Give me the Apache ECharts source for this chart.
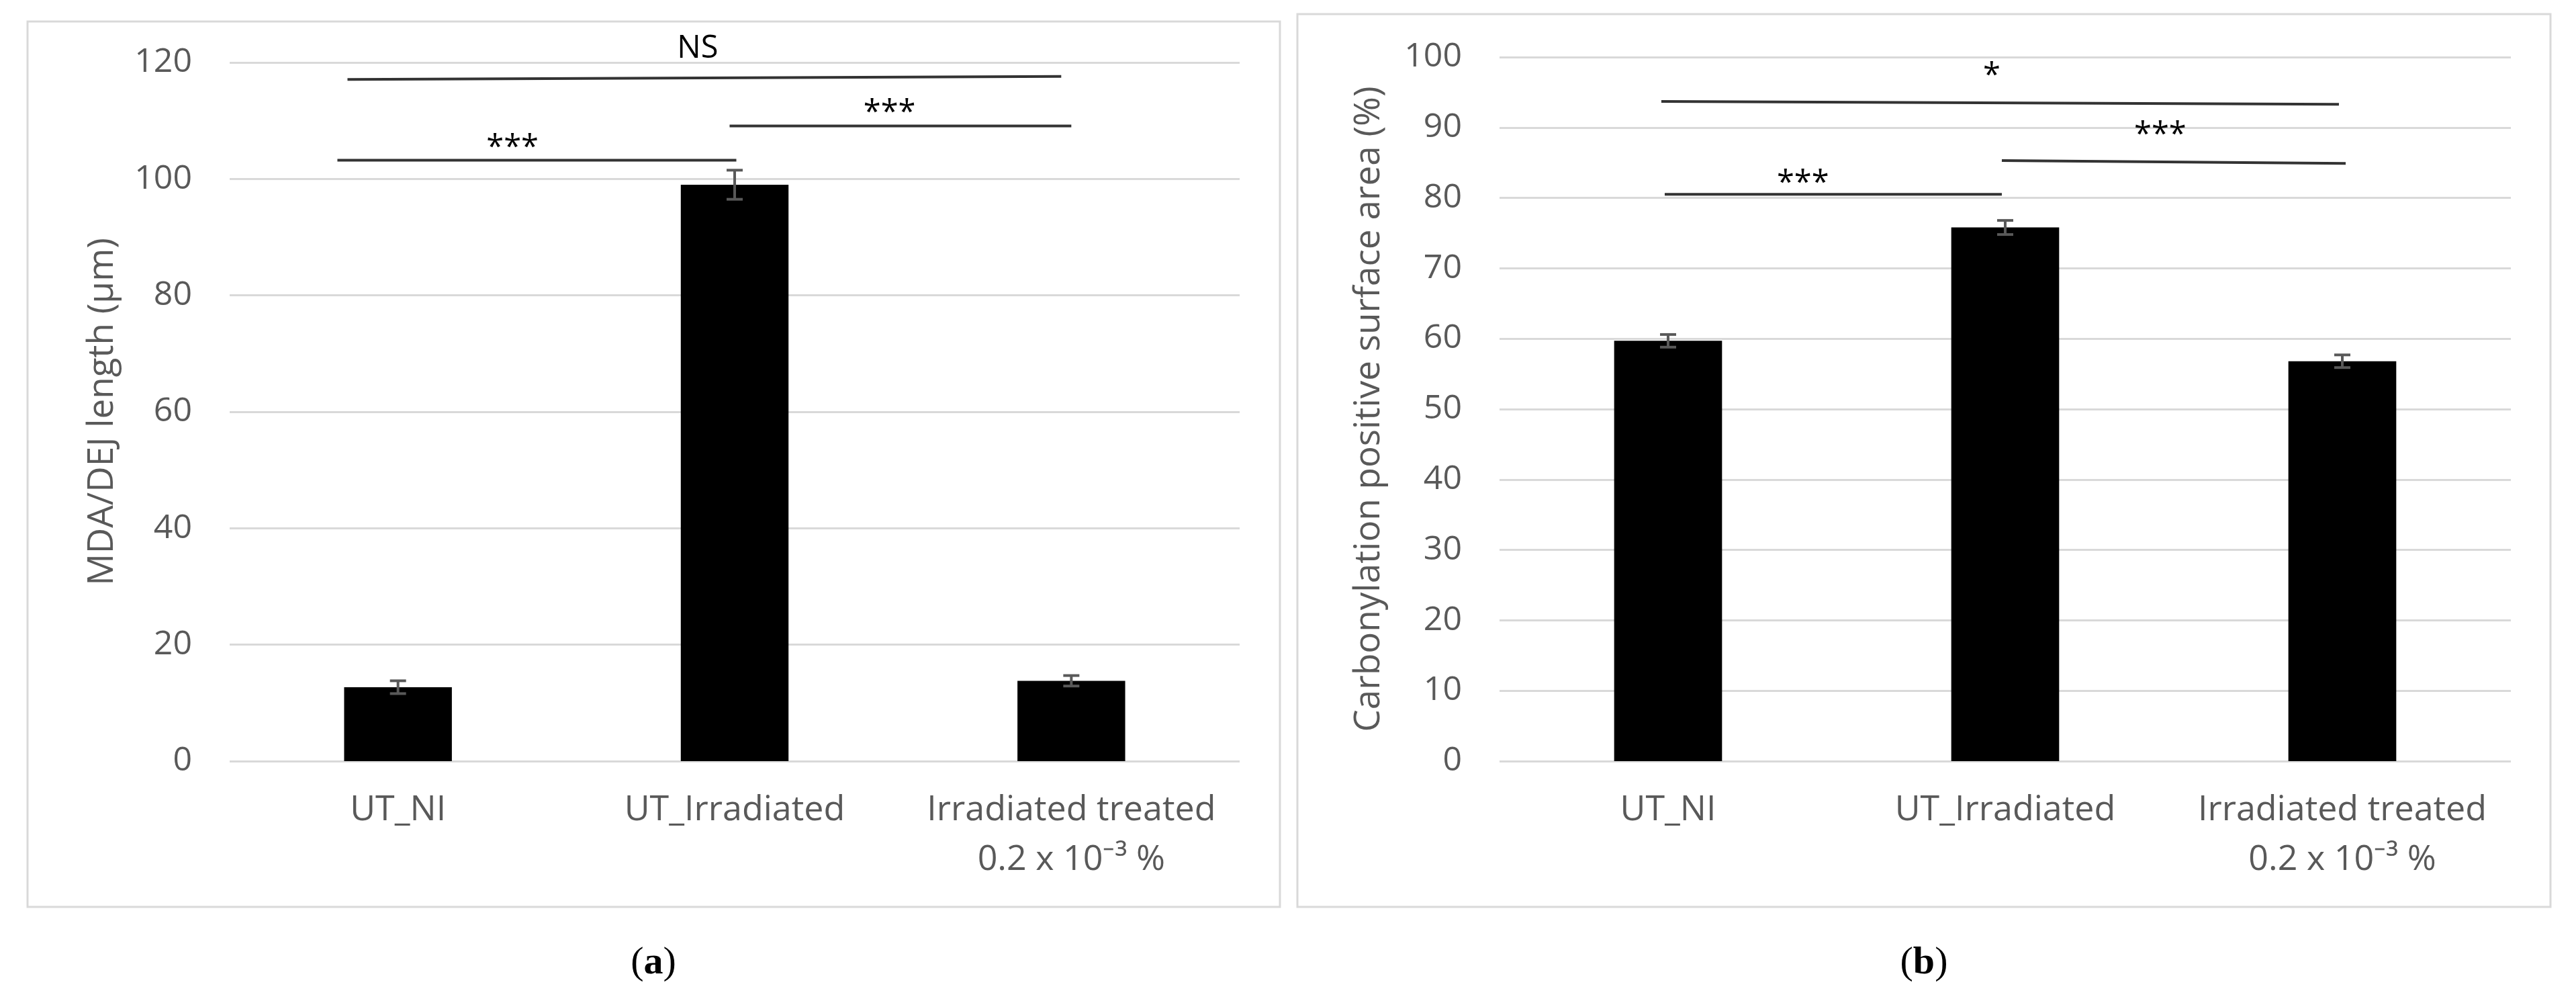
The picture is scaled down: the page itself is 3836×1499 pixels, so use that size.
<!DOCTYPE html>
<html>
<head>
<meta charset="utf-8">
<script src="https://cdn.jsdelivr.net/npm/echarts@6/dist/echarts.min.js"></script>
<style>
html,body{margin:0;padding:0;background:#fff;}
#c{width:3836px;height:1499px;}
</style>
</head>
<body>
<div id="c"></div>
<script>
// ---- data ----
var categories = ['UT_NI', 'UT_Irradiated', 'Irradiated treated\n0.2 x 10\u207B\u00B3 %'];

var mdaValues = [12.7, 99.0, 13.8];
var mdaErrors = [1.1, 2.5, 0.9];

var carbValues = [59.7, 75.8, 56.8];
var carbErrors = [0.9, 1.0, 0.9];

var mdaTicks = [0, 20, 40, 60, 80, 100, 120];
var carbTicks = [0, 10, 20, 30, 40, 50, 60, 70, 80, 90, 100];

// significance brackets: [xStart, yStart, xEnd, yEnd] in category units / value units
var mdaBrackets = [[-0.15, 117.1, 1.97, 117.6], [-0.18, 103.2, 1.005, 103.2], [0.985, 109.1, 2.0, 109.1]];
var mdaSigLabels = ['NS', '***', '***'];
var mdaSigPos = [[0.89, 122.3], [0.34, 105.3], [1.46, 111.3]];

var carbBrackets = [[-0.02, 93.7, 1.99, 93.3], [-0.01, 80.5, 0.99, 80.5], [0.99, 85.3, 2.01, 84.9]];
var carbSigLabels = ['*', '***', '***'];
var carbSigPos = [[0.96, 97.3], [0.40, 82.0], [1.46, 88.9]];

var FONT = 'Open Sans';
var GREY = '#595959';

function errData(vals, errs) {
  return vals.map(function (v, i) { return [i, v - errs[i], v + errs[i]]; });
}

function errorSeries(idx, vals, errs) {
  return {
    type: 'custom', xAxisIndex: idx * 2, yAxisIndex: idx, z: 5,
    data: errData(vals, errs),
    encode: { x: 0, y: [1, 2] },
    renderItem: function (params, api) {
      var x = api.value(0);
      var lo = api.coord([x, api.value(1)]);
      var hi = api.coord([x, api.value(2)]);
      var hw = 12;
      var st = { stroke: GREY, lineWidth: 4 };
      return { type: 'group', children: [
        { type: 'line', shape: { x1: lo[0], y1: lo[1], x2: hi[0], y2: hi[1] }, style: st },
        { type: 'line', shape: { x1: lo[0] - hw, y1: lo[1], x2: lo[0] + hw, y2: lo[1] }, style: st },
        { type: 'line', shape: { x1: hi[0] - hw, y1: hi[1], x2: hi[0] + hw, y2: hi[1] }, style: st }
      ]};
    }
  };
}

function bracketSeries(idx, brackets) {
  return {
    type: 'custom', xAxisIndex: idx * 2 + 1, yAxisIndex: idx, z: 6,
    data: brackets,
    encode: { x: [0, 2], y: [1, 3] },
    renderItem: function (params, api) {
      var a = api.coord([api.value(0), api.value(1)]);
      var b = api.coord([api.value(2), api.value(3)]);
      return { type: 'line', shape: { x1: a[0], y1: a[1], x2: b[0], y2: b[1] },
        style: { stroke: '#333333', lineWidth: 4 } };
    }
  };
}

function sigTextSeries(idx, pos, labels) {
  return {
    type: 'custom', xAxisIndex: idx * 2 + 1, yAxisIndex: idx, z: 7,
    data: pos,
    encode: { x: 0, y: 1 },
    renderItem: function (params, api) {
      var p = api.coord([api.value(0), api.value(1)]);
      return { type: 'text', x: p[0], y: p[1],
        style: { text: labels[params.dataIndex], fill: '#000', font: '47px "' + FONT + '"',
          align: 'center', verticalAlign: 'middle' } };
    }
  };
}

function catAxis(gi) {
  return {
    type: 'category', gridIndex: gi, data: categories,
    axisLine: { show: false }, axisTick: { show: false },
    axisLabel: { color: GREY, fontFamily: FONT, fontSize: 52, margin: 36, lineHeight: 74, interval: 0 }
  };
}
function hiddenX(gi) {
  return { type: 'value', gridIndex: gi, min: -0.5, max: 2.5, show: false };
}
function valAxis(gi, max, interval, name, gap) {
  return {
    type: 'value', gridIndex: gi, min: 0, max: max, interval: interval,
    name: name, nameLocation: 'middle', nameGap: gap,
    nameTextStyle: { color: GREY, fontFamily: FONT, fontSize: 53 },
    axisLine: { show: false }, axisTick: { show: false },
    axisLabel: { color: GREY, fontFamily: FONT, fontSize: 50, margin: 56 },
    splitLine: { lineStyle: { color: '#d9d9d9', width: 3 } }
  };
}

var chart = echarts.init(document.getElementById('c'), null, { renderer: 'canvas' });
chart.setOption({
  backgroundColor: '#fff',
  animation: false,
  grid: [
    { left: 342, top: 93, width: 1504, height: 1040 },
    { left: 2233, top: 85, width: 1506, height: 1048 }
  ],
  xAxis: [catAxis(0), hiddenX(0), catAxis(1), hiddenX(1)],
  yAxis: [
    valAxis(0, 120, 20, 'MDA/DEJ length (\u00B5m)', 163),
    valAxis(1, 100, 10, 'Carbonylation positive surface area (%)', 168)
  ],
  graphic: [
    { type: 'rect', shape: { x: 41, y: 32, width: 1865, height: 1318 }, style: { fill: 'none', stroke: '#d9d9d9', lineWidth: 3 }, z: -1 },
    { type: 'rect', shape: { x: 1932, y: 21, width: 1866, height: 1329 }, style: { fill: 'none', stroke: '#d9d9d9', lineWidth: 3 }, z: -1 },
    { type: 'text', x: 973, y: 1434, style: { text: '({b|a})', rich: { b: { font: 'bold 58px "Liberation Serif"', fill: '#000' } }, font: '58px "Liberation Serif"', fill: '#000', align: 'center', verticalAlign: 'middle' } },
    { type: 'text', x: 2865, y: 1434, style: { text: '({b|b})', rich: { b: { font: 'bold 58px "Liberation Serif"', fill: '#000' } }, font: '58px "Liberation Serif"', fill: '#000', align: 'center', verticalAlign: 'middle' } }
  ],
  series: [
    { type: 'bar', xAxisIndex: 0, yAxisIndex: 0, data: mdaValues, barWidth: '32%', itemStyle: { color: '#000' } },
    errorSeries(0, mdaValues, mdaErrors),
    bracketSeries(0, mdaBrackets),
    sigTextSeries(0, mdaSigPos, mdaSigLabels),
    { type: 'bar', xAxisIndex: 2, yAxisIndex: 1, data: carbValues, barWidth: '32%', itemStyle: { color: '#000' } },
    errorSeries(1, carbValues, carbErrors),
    bracketSeries(1, carbBrackets),
    sigTextSeries(1, carbSigPos, carbSigLabels)
  ]
});
</script>
</body>
</html>
